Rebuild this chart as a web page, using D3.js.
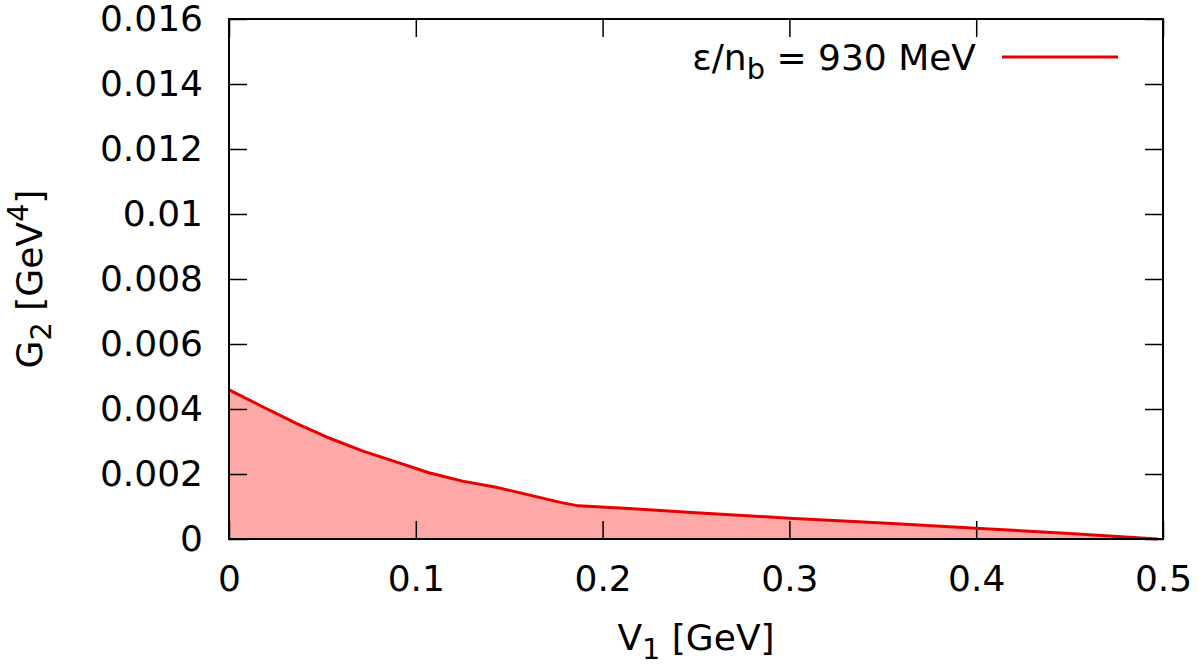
<!DOCTYPE html>
<html>
<head>
<meta charset="utf-8">
<script src="https://cdn.jsdelivr.net/npm/d3@7"></script>
<style>
  body { margin: 0; background: #fff; }
  svg text { font-family: "DejaVu Sans", Verdana, sans-serif; fill: #000; }
</style>
</head>
<body>
<div id="chart"></div>
<script>
// curve: V1 [GeV] vs G2 [GeV^4]
var v1 = [0, 0.018, 0.036, 0.054, 0.071, 0.089, 0.107, 0.125, 0.143, 0.161, 0.178, 0.187, 0.214, 0.25, 0.3, 0.35, 0.4, 0.45, 0.497];
var g2 = [0.00459, 0.00407, 0.00356, 0.0031, 0.00272, 0.00238, 0.00204, 0.00178, 0.00159, 0.00135, 0.00112, 0.00102, 0.00094, 0.00081, 0.00064, 0.00049, 0.00033, 0.00017, 0];

var xTicks = [0, 0.1, 0.2, 0.3, 0.4, 0.5];
var yTicks = [0, 0.002, 0.004, 0.006, 0.008, 0.01, 0.012, 0.014, 0.016];
var legendLabel = 'ε/n';

var width = 1200,
    height = 672,
    plotL = 229, plotR = 1163, plotT = 19, plotB = 539,
    tickLen = 18,
    fontSize = 36;

var data = v1.map(function(v, i) { return { x: v, y: g2[i] }; });

var svg = d3.select('#chart').append('svg')
    .attr('width', width)
    .attr('height', height);

svg.append('rect').attr('width', width).attr('height', height).attr('fill', '#fff');

var x = d3.scaleLinear().domain([0, 0.5]).range([plotL, plotR]);
var y = d3.scaleLinear().domain([0, 0.016]).range([plotB, plotT]);

function fmt(d) { return d === 0 ? '0' : String(+d.toFixed(3)); }

// filled area under the curve
svg.append('path')
    .datum(data)
    .attr('fill', '#ffa8a8')
    .attr('d', d3.area()
        .x(function(d) { return x(d.x); })
        .y0(y(0))
        .y1(function(d) { return y(d.y); }));

// axes, ticks point inward and are mirrored
var xb = svg.append('g')
    .attr('transform', 'translate(0,' + plotB + ')')
    .call(d3.axisBottom(x).tickValues(xTicks).tickFormat(fmt).tickSizeInner(-tickLen).tickSizeOuter(0).tickPadding(26));
var xt = svg.append('g')
    .attr('transform', 'translate(0,' + plotT + ')')
    .call(d3.axisTop(x).tickValues(xTicks).tickFormat('').tickSizeInner(-tickLen).tickSizeOuter(0));
var yl = svg.append('g')
    .attr('transform', 'translate(' + plotL + ',0)')
    .call(d3.axisLeft(y).tickValues(yTicks).tickFormat(fmt).tickSizeInner(-tickLen).tickSizeOuter(0).tickPadding(26));
var yr = svg.append('g')
    .attr('transform', 'translate(' + plotR + ',0)')
    .call(d3.axisRight(y).tickValues(yTicks).tickFormat('').tickSizeInner(-tickLen).tickSizeOuter(0));

[xb, xt, yl, yr].forEach(function(g) {
    g.select('.domain').remove();
    g.selectAll('line').attr('stroke', '#000').attr('stroke-width', 1.5);
    g.selectAll('text').attr('font-size', fontSize).attr('font-family', '"DejaVu Sans", sans-serif').attr('fill', '#000');
});

// curve
svg.append('path')
    .datum(data)
    .attr('fill', 'none')
    .attr('stroke', '#e60000')
    .attr('stroke-width', 3)
    .attr('d', d3.line()
        .x(function(d) { return x(d.x); })
        .y(function(d) { return y(d.y); }));

// frame
svg.append('rect')
    .attr('x', plotL).attr('y', plotT)
    .attr('width', plotR - plotL).attr('height', plotB - plotT)
    .attr('fill', 'none')
    .attr('stroke', '#000')
    .attr('stroke-width', 2);

// axis titles
var xTitle = svg.append('text')
    .attr('x', (plotL + plotR) / 2)
    .attr('y', 650)
    .attr('text-anchor', 'middle')
    .attr('font-size', fontSize);
xTitle.append('tspan').text('V');
xTitle.append('tspan').attr('font-size', fontSize * 0.8).attr('dy', 9).text('1');
xTitle.append('tspan').attr('dy', -9).text(' [GeV]');

var yTitle = svg.append('text')
    .attr('transform', 'translate(42,' + (plotT + plotB) / 2 + ') rotate(-90)')
    .attr('text-anchor', 'middle')
    .attr('font-size', fontSize);
yTitle.append('tspan').text('G');
yTitle.append('tspan').attr('font-size', fontSize * 0.8).attr('dy', 9).text('2');
yTitle.append('tspan').attr('dy', -9).text(' [GeV');
yTitle.append('tspan').attr('font-size', fontSize * 0.8).attr('dy', -14).text('4');
yTitle.append('tspan').attr('dy', 14).text(']');

// legend
var lg = svg.append('text')
    .attr('x', 976)
    .attr('y', 70)
    .attr('text-anchor', 'end')
    .attr('font-size', fontSize);
lg.append('tspan').text(legendLabel);
lg.append('tspan').attr('font-size', fontSize * 0.8).attr('dy', 9).text('b');
lg.append('tspan').attr('dy', -9).text(' = 930 MeV');

svg.append('line')
    .attr('x1', 1002).attr('x2', 1118)
    .attr('y1', 57).attr('y2', 57)
    .attr('stroke', '#e60000')
    .attr('stroke-width', 3);
</script>
</body>
</html>
